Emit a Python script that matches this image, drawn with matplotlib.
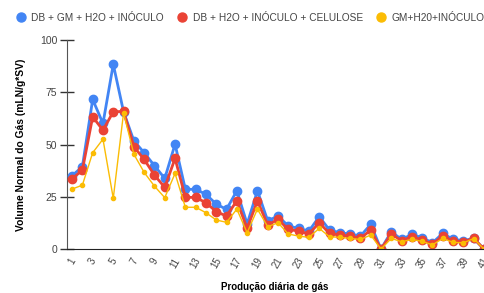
import numpy as np
import matplotlib.pyplot as plt
from matplotlib.lines import Line2D

plt.rcParams['font.family'] = ['Liberation Sans', 'DejaVu Sans']

# Data
days = np.arange(1, 42)
db_gm = [35.1, 39.4, 71.6, 60.1, 88.4, 65.7, 51.8, 46.1, 39.9, 33.8,
         50.2, 28.6, 28.6, 26.2, 21.5, 19.0, 27.9, 12.0, 27.9, 13.5,
         15.8, 11.0, 9.9, 8.6, 15.5, 9.1, 7.8, 7.2, 6.2, 11.8,
         0.0, 8.3, 4.6, 7.0, 5.4, 3.0, 7.5, 4.6, 4.0, 5.1, 0.0]
db_cel = [33.6, 37.8, 63.3, 56.9, 65.7, 65.9, 49.0, 42.9, 35.4, 29.5,
          43.4, 24.8, 24.7, 22.2, 17.9, 15.8, 23.1, 9.9, 23.1, 11.5,
          14.2, 9.4, 8.6, 7.2, 12.6, 7.5, 6.7, 6.2, 5.1, 9.1,
          0.0, 7.2, 4.0, 5.9, 4.3, 2.4, 6.4, 3.8, 3.5, 5.1, 0.0]
gm_h2o = [28.7, 30.6, 46.1, 52.6, 24.3, 65.2, 45.4, 36.7, 30.1, 24.6,
          36.2, 20.0, 20.0, 17.4, 13.9, 12.8, 19.1, 7.8, 19.1, 10.7,
          12.6, 7.2, 6.2, 5.6, 9.9, 5.9, 5.6, 5.1, 4.6, 6.7,
          0.0, 5.1, 3.5, 4.6, 3.7, 2.0, 5.1, 3.2, 3.0, 5.0, 0.0]
labels = ['DB + GM + H2O + INÓCULO', 'DB + H2O + INÓCULO + CELULOSE', 'GM+H20+INÓCULO']
colors = ['#4285F4', '#EA4335', '#FBBC04']

fig = plt.figure(figsize=(4.85, 2.93), dpi=100)
ax = fig.add_axes([0.138, 0.150, 0.862, 0.713])

ax.plot(days, db_gm, color=colors[0], lw=2, marker='o', ms=6, zorder=3)
ax.plot(days, db_cel, color=colors[1], lw=2, marker='o', ms=6, zorder=4)
ax.plot(days, gm_h2o, color=colors[2], lw=1, marker='o', ms=3, zorder=5)

ax.set_xlim(0.5, 41.1)
ax.set_ylim(0, 100)
ax.set_yticks([0, 25, 50, 75, 100])
ax.set_xticks(days[::2])
ax.tick_params(axis='y', direction='inout', length=10, width=1, colors='#333333',
               labelsize=7.5, labelcolor='#444444', pad=2)
ax.tick_params(axis='x', length=0, labelsize=7, labelcolor='#444444', pad=5)
for t in ax.get_xticklabels():
    t.set_rotation(60)
    t.set_ha('center')
    t.set_va('top')

for s in ['top', 'right']:
    ax.spines[s].set_visible(False)
ax.spines['left'].set_color('#555555')
ax.spines['bottom'].set_color('#222222')
ax.spines['bottom'].set_zorder(6)

ax.set_ylabel('Volume Normal do Gás (mLN/g*SV)', fontsize=7.4, fontweight='bold')
ax.yaxis.set_label_coords(-0.097, 0.5)
fig.text(0.566, 0.005, 'Produção diária de gás', fontsize=7, fontweight='bold',
         ha='center', va='bottom')

handles = [Line2D([], [], ls='none', marker='o', ms=6.5, color=c) for c in colors]
fig.legend(handles, labels, loc='center left', bbox_to_anchor=(0.024, 0.94), ncol=3,
           frameon=False, fontsize=7.3, labelcolor='#444444', handlelength=1.0,
           handletextpad=0.55, columnspacing=1.3, borderaxespad=0)

fig.savefig('out.png', dpi=100)
